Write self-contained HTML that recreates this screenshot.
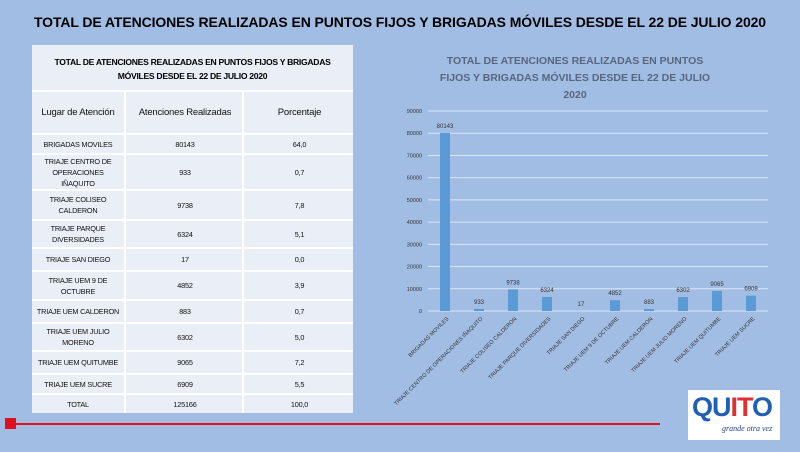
<!DOCTYPE html>
<html><head><meta charset="utf-8"><style>
body{margin:0;width:800px;height:452px;background:#a2bde4;position:relative;overflow:hidden;font-family:"Liberation Sans",sans-serif}
#title{position:absolute;left:0;width:800px;top:14px;text-align:center;font-weight:bold;font-size:14px;color:#000;letter-spacing:-0.1px}
#tbl{position:absolute;left:32px;top:45px;width:321px;height:368px;background:#e9eef7}
.r{position:absolute;left:0;width:321px;border-top:2px solid #fff;box-sizing:border-box}
.c{position:absolute;top:0;bottom:0;display:flex;align-items:center;justify-content:center;text-align:center;font-size:7.5px;color:#111;line-height:11px;letter-spacing:-0.2px}
.c1{left:0;width:92px}.c2{left:92px;width:118px;border-left:2px solid #fff}.c3{left:210px;width:111px;border-left:2px solid #fff}
</style></head><body>
<div id="title">TOTAL DE ATENCIONES REALIZADAS EN PUNTOS FIJOS Y BRIGADAS MÓVILES DESDE EL 22 DE JULIO 2020</div>
<div id="tbl">
<div style="position:absolute;top:10px;width:321px;text-align:center;font-size:8.6px;font-weight:bold;line-height:14px;letter-spacing:-0.3px;white-space:nowrap">TOTAL DE ATENCIONES REALIZADAS EN PUNTOS FIJOS Y BRIGADAS<br>MÓVILES DESDE EL 22 DE JULIO 2020</div>
</div>
<svg id="chart" width="800" height="452" style="position:absolute;left:0;top:0"></svg>
<div style="position:absolute;left:5px;top:418px;width:11px;height:11px;background:#e0101e"></div>
<div style="position:absolute;left:10px;top:423px;width:650px;height:2px;background:#e0101e"></div>
<div style="position:absolute;left:688px;top:390px;width:92px;height:50px;background:#fff">
<div style="position:absolute;left:4px;top:2px;font-weight:bold;font-size:27px;letter-spacing:-1px;color:#1f5fb5">QU<span style="color:#e03030">I</span><span style="color:#e03030">T</span><span style="color:#1f5fb5">O</span></div>
<div style="position:absolute;left:34px;top:34px;font-style:italic;font-size:8px;color:#1f3f8f;font-family:'Liberation Serif',serif">grande otra vez</div>
</div>
<script>
const chartLabels=["BRIGADAS MOVILES","TRIAJE CENTRO DE OPERACIONES IÑAQUITO","TRIAJE COLISEO CALDERON","TRIAJE PARQUE DIVERSIDADES","TRIAJE SAN DIEGO","TRIAJE UEM 9 DE OCTUBRE","TRIAJE UEM CALDERON","TRIAJE UEM JULIO MORENO","TRIAJE UEM QUITUMBE","TRIAJE UEM SUCRE"];
const values=[80143,933,9738,6324,17,4852,883,6302,9065,6909];
const percents=["64,0","0,7","7,8","5,1","0,0","3,9","0,7","5,0","7,2","5,5"];
const yTicks=[0,10000,20000,30000,40000,50000,60000,70000,80000,90000];
const tableLabels=["BRIGADAS MOVILES","TRIAJE CENTRO DE<br>OPERACIONES<br>IÑAQUITO","TRIAJE COLISEO<br>CALDERON","TRIAJE PARQUE<br>DIVERSIDADES","TRIAJE SAN DIEGO","TRIAJE UEM 9 DE<br>OCTUBRE","TRIAJE UEM CALDERON","TRIAJE UEM JULIO<br>MORENO","TRIAJE UEM QUITUMBE","TRIAJE UEM SUCRE"];
const rowB=[45,88,108,144,174,202,225,254,277,305,328,348,368];
const tbl=document.getElementById('tbl');
function row(i,a,b,c,fs,name){
 const r=document.createElement('div');r.className='r';
 
 
 r.style.top=rowB[i]+'px';r.style.height=(rowB[i+1]-rowB[i])+'px';
 r.innerHTML=`<div class="c c1" style="font-size:${fs}px;white-space:nowrap">${a}</div><div class="c c2" style="font-size:${fs}px">${b}</div><div class="c c3" style="font-size:${fs}px">${c}</div>`;
 tbl.appendChild(r);
}
row(0,"Lugar de Atención","Atenciones Realizadas","Porcentaje",9.5,'table-header');
for(let i=0;i<values.length;i++) row(i+1,tableLabels[i],values[i],percents[i],7.3,'table-row');
const tot=values.reduce((a,b)=>a+b,0);
row(11,"TOTAL",tot,"100,0",7.3,'table-total-row');

const svg=document.getElementById('chart');const NS='http://www.w3.org/2000/svg';
const x0=428,x1=768,y0=311,yTop=111,maxV=90000;
const y=v=>y0-(v/maxV)*(y0-yTop);
const bw=(x1-x0)/values.length;
const xc=i=>x0+bw*(i+0.5);
function el(t,at,txt){const e=document.createElementNS(NS,t);for(const k in at)e.setAttribute(k,at[k]);if(txt!==undefined)e.textContent=txt;svg.appendChild(e);return e;}
const tt=["TOTAL DE ATENCIONES REALIZADAS EN PUNTOS","FIJOS Y BRIGADAS MÓVILES DESDE EL 22 DE JULIO","2020"];
tt.forEach((s,i)=>{const t=el('text',{x:575,y:64+i*17,'text-anchor':'middle','font-size':10.5,'font-weight':'bold',fill:'#58667f'},s);

});
yTicks.forEach(v=>{
 const l=el('line',{x1:x0,x2:x1,y1:y(v),y2:y(v),stroke:'#dbe5f4','stroke-width':1});
 
 
 const t=el('text',{x:422,y:y(v)+2,'text-anchor':'end','font-size':5.5,fill:'#333'},v);
 
 
});
values.forEach((v,i)=>{
 const b=el('rect',{x:xc(i)-5,y:y(v),width:10,height:y0-y(v),fill:'#5b9bd5'});
 
 
 const t=el('text',{x:xc(i),y:y(v)-5,'text-anchor':'middle','font-size':6,fill:'#333'},v);
 
 
 const c=el('text',{x:xc(i)+4,y:y0+8,'text-anchor':'end','font-size':5.5,fill:'#333',transform:`rotate(-45 ${xc(i)+4} ${y0+8})`},chartLabels[i]);
 
 
});
</script>
</body></html>
